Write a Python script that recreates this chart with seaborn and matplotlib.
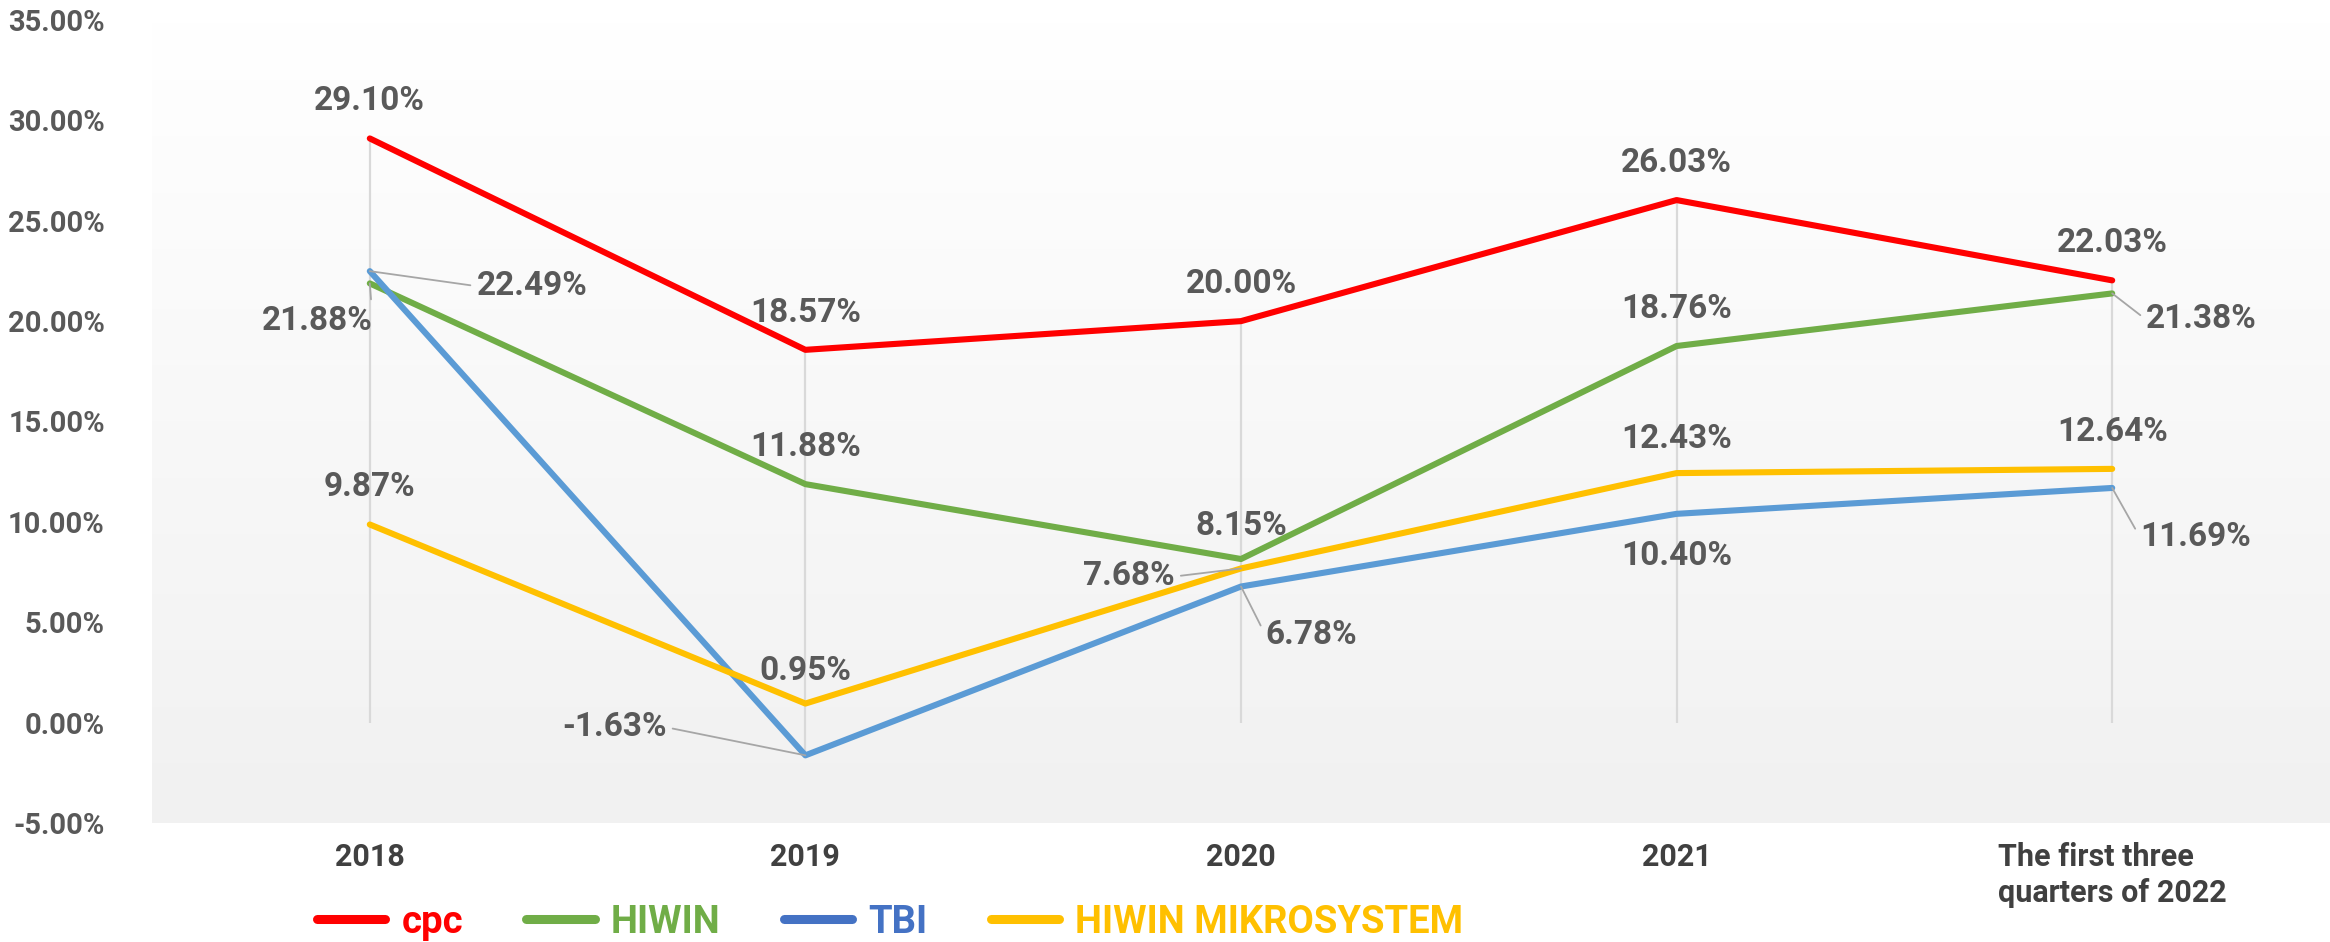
import numpy as np
import pandas as pd
import matplotlib
matplotlib.use('Agg')
import matplotlib.pyplot as plt
from matplotlib.lines import Line2D
from matplotlib.colors import LinearSegmentedColormap
import seaborn as sns

# chart data (percent)
periods = ['2018', '2019', '2020', '2021', 'The first three\nquarters of 2022']
companies = ['cpc', 'HIWIN', 'TBI', 'HIWIN MIKROSYSTEM']
cpc = [29.10, 18.57, 20.00, 26.03, 22.03]
hiwin = [21.88, 11.88, 8.15, 18.76, 21.38]
tbi = [22.49, -1.63, 6.78, 10.40, 11.69]
mikro = [9.87, 0.95, 7.68, 12.43, 12.64]
y_ticks = [-5, 0, 5, 10, 15, 20, 25, 30, 35]

line_colors = ['#FF0000', '#70AD47', '#5B9BD5', '#FFC000']
legend_colors = ['#FF0000', '#70AD47', '#4472C4', '#FFC000']

series = dict(zip(companies, [cpc, hiwin, tbi, mikro]))
rows = []
for name, vals in series.items():
    for i, v in enumerate(vals):
        rows.append({'pos': i, 'period': periods[i], 'company': name, 'value': v})
df = pd.DataFrame(rows)

sns.set_style('white')
plt.rcParams['font.family'] = ['Roboto', 'DejaVu Sans']

fig = plt.figure(figsize=(23.3, 9.42), dpi=100)
ax = fig.add_axes([152 / 2330, 1 - 823 / 942, 1 - 152 / 2330, (823 - 20) / 942])

# gradient background of the plot area
grad = LinearSegmentedColormap.from_list('bg', ['#ffffff', '#f1f1f1'])
ax.imshow(np.linspace(0, 1, 256).reshape(-1, 1), cmap=grad, aspect='auto',
          extent=[0, 1, 0, 1], transform=ax.transAxes, zorder=0)

# drop lines
wide = df.pivot(index='pos', columns='company', values='value')
lows = np.minimum(wide.min(axis=1).values, 0)
highs = wide.max(axis=1).values
ax.vlines(wide.index, lows, highs, color='#d9d9d9', lw=1.6, zorder=1)

sns.lineplot(data=df, x='pos', y='value', hue='company', hue_order=companies,
             palette=dict(zip(companies, line_colors)), linewidth=4.4,
             legend=False, sort=False, ax=ax, zorder=3)

ax.set_xlim(-0.5, 4.5)
ax.set_ylim(-5, 35)
ax.set_yticks(y_ticks)
ax.set_yticklabels([f'{t:.2f}%' for t in y_ticks])
ax.set_xticks(range(len(periods)))
ax.set_xticklabels(periods, multialignment='left', linespacing=1.25)
ax.tick_params(axis='y', length=0, pad=34, labelsize=21, labelcolor='#595959')
ax.tick_params(axis='x', length=0, pad=14, labelsize=22, labelcolor='#404040')
for lab in ax.get_xticklabels() + ax.get_yticklabels():
    lab.set_fontweight('bold')
ax.set_xlabel('')
ax.set_ylabel('')
ax.grid(False)
for s in ax.spines.values():
    s.set_visible(False)

# data label offsets in pixels (dx, dy) and leader anchor on the label
above = (0, 37)
offsets = {
    'cpc': [above] * 5,
    'HIWIN': [(-53, -38), above, (0, 33), above, (89, -26)],
    'TBI': [(162, -15), (-191, 28), (70, -48), (0, -42), (83, -49)],
    'HIWIN MIKROSYSTEM': [above, (0, 33), (-112, -8), (0, 34), above],
}
leaders = {
    ('HIWIN', 0): (1, 0.7), ('HIWIN', 4): (0, 0.5),
    ('TBI', 0): (0, 0.5), ('TBI', 1): (1, 0.5), ('TBI', 2): (0, 0.5), ('TBI', 4): (0, 0.5),
    ('HIWIN MIKROSYSTEM', 2): (1, 0.5),
}
for name, vals in series.items():
    for i, v in enumerate(vals):
        dx, dy = offsets[name][i]
        kw = {}
        if (name, i) in leaders:
            kw['arrowprops'] = dict(arrowstyle='-', color='#a6a6a6', lw=1.3,
                                    shrinkA=2, shrinkB=0,
                                    relpos=leaders[(name, i)])
        ax.annotate(f'{v:.2f}%', xy=(i, v), xytext=(dx, dy), textcoords='offset pixels',
                    ha='center', va='center', fontsize=24, fontweight='bold',
                    color='#595959', zorder=5, **kw)

handles = [Line2D([], [], color=c, lw=6.5) for c in legend_colors]
leg = fig.legend(handles, companies, loc='center', bbox_to_anchor=(0.382, 0.021),
                 ncol=4, frameon=False, handlelength=1.8, handletextpad=0.42,
                 columnspacing=1.65, prop={'weight': 'bold', 'size': 27.5})
for txt, c in zip(leg.get_texts(), legend_colors):
    txt.set_color(c)

fig.savefig('out.png', dpi=100)
